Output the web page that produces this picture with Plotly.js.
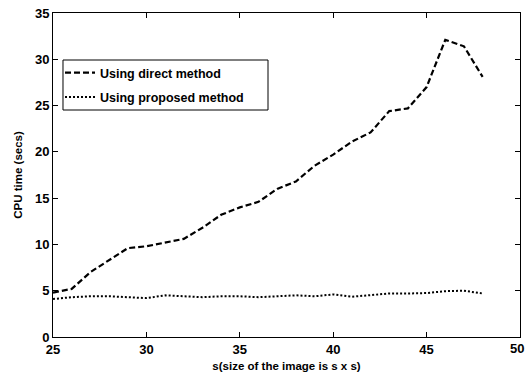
<!DOCTYPE html>
<html>
<head>
<meta charset="utf-8">
<script src="https://cdn.plot.ly/plotly-3.0.1.min.js"></script>
<style>html,body{margin:0;padding:0;background:#fff;}#chart{width:525px;height:372px;}</style>
</head>
<body>
<div id="chart"></div>
<script>
const sizes = [25,26,27,28,29,30,31,32,33,34,35,36,37,38,39,40,41,42,43,44,45,46,47,48];
const directTime = [4.8,5.2,7.0,8.3,9.6,9.8,10.2,10.6,11.8,13.2,14.0,14.6,16.0,16.8,18.5,19.7,21.1,22.1,24.4,24.7,27.0,32.1,31.4,28.1];
const proposedTime = [4.1,4.3,4.4,4.4,4.3,4.2,4.5,4.4,4.3,4.4,4.4,4.3,4.4,4.5,4.4,4.6,4.35,4.5,4.7,4.7,4.75,4.95,5.0,4.7];
const seriesNames = ["Using direct method","Using proposed method"];
const edgeTickLabel = "50";

const fontFam = "Liberation Sans, Arial, sans-serif";
const tickFont = {family: fontFam, size: 13, color: "#000"};
const titleFont = {family: fontFam, size: 11.5, color: "#000"};
const b = s => "<b>" + s + "</b>";
const traces = [
  {x: sizes, y: directTime, mode: "lines", name: b(seriesNames[0]), legendgroup: "g1",
   line: {color: "#000", width: 2.2, dash: "6px,3px"}},
  {x: sizes, y: proposedTime, mode: "lines", name: b(seriesNames[1]), legendgroup: "g2",
   line: {color: "#000", width: 2, dash: "2px,2px"}}
];
const axisCommon = {
  showgrid: false, zeroline: false, showline: true, linecolor: "#000", linewidth: 1,
  mirror: "ticks", ticks: "inside", ticklen: 5, tickcolor: "#000",
  tickfont: tickFont, tickprefix: "<b>", ticksuffix: "</b>"
};
const layout = {
  width: 525, height: 372,
  margin: {l: 53, r: 5, t: 13, b: 35},
  paper_bgcolor: "#fff", plot_bgcolor: "#fff",
  font: {family: fontFam, color: "#000"},
  showlegend: true,
  legend: {x: 0.015, y: 0.861, xanchor: "left", yanchor: "top",
    bgcolor: "rgba(0,0,0,0)", borderwidth: 0, itemwidth: 30,
    traceorder: "grouped", tracegroupgap: 5,
    font: {family: fontFam, size: 12.5, color: "#000"}},
  shapes: [{type: "rect", xref: "paper", yref: "paper",
    x0: 0.0214, x1: 0.4604, y0: 0.7006, y1: 0.8549,
    line: {color: "#000", width: 1}, fillcolor: "#fff", layer: "below"}],
  xaxis: Object.assign({}, axisCommon, {range: [25, 50], dtick: 5, tick0: 25,
    automargin: false,
    title: {text: b("s(size of the image is s x s)"), standoff: 11, font: titleFont}}),
  yaxis: Object.assign({}, axisCommon, {range: [0, 35], dtick: 5, tick0: 0,
    automargin: false,
    title: {text: b("CPU time (secs)"), standoff: 9, font: titleFont}}),
  annotations: [{xref: "x", yref: "y", x: 50, y: 0, text: b(edgeTickLabel), showarrow: false,
    yanchor: "top", yshift: -2, xshift: -3, font: tickFont}]
};
Plotly.newPlot("chart", traces, layout, {displayModeBar: false, staticPlot: true});
</script>
</body>
</html>
